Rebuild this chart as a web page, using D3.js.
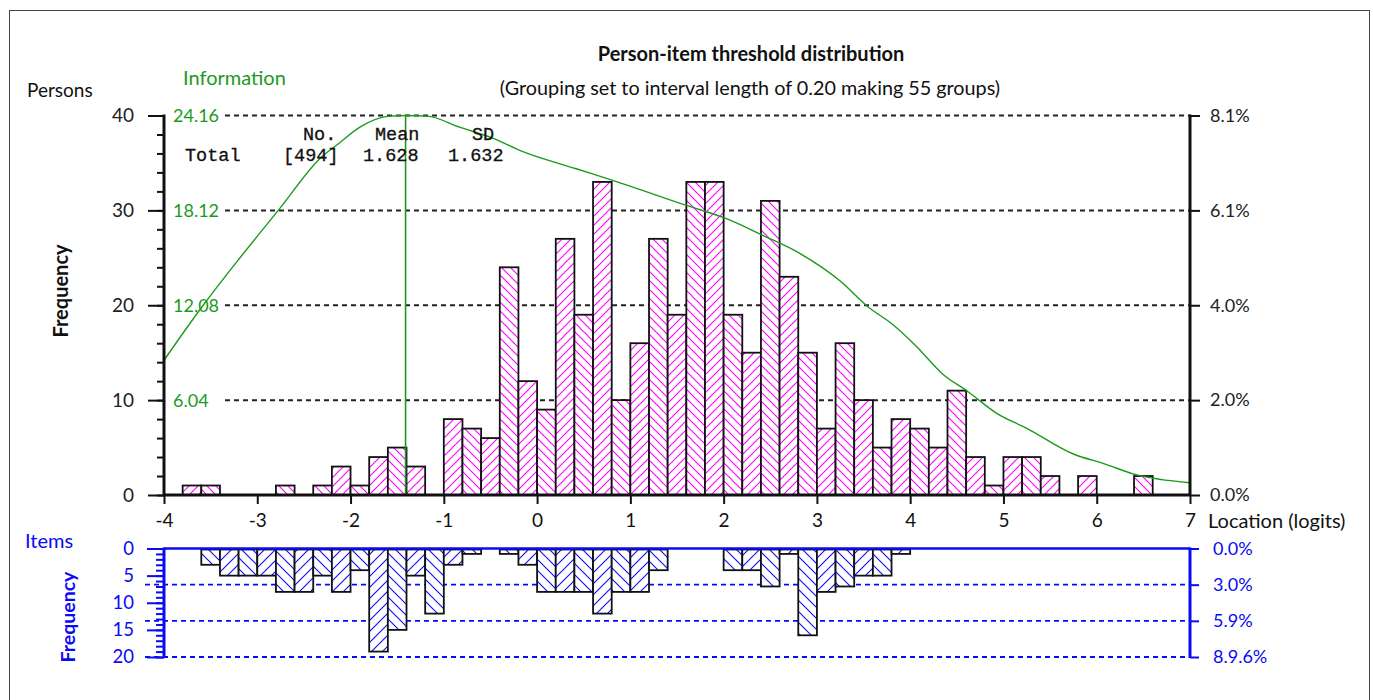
<!DOCTYPE html>
<html>
<head>
<meta charset="utf-8">
<script src="https://cdn.jsdelivr.net/npm/d3@7"></script>
<style>
  body { margin: 0; background: #fff; }
  svg text { font-family: Lato, "Open Sans", sans-serif; }
</style>
</head>
<body>
<svg id="chart" width="1373" height="700"></svg>
<script>
// ---- data -------------------------------------------------------------
// 55 groups of width 0.20 logits, starting at -4
const binStart = -4;
const binWidth = 0.2;

// persons per group
const personCounts = [0,1,1,0,0,0,1,0,1,3,1,4,5,3,0,8,7,6,24,12,9,27,19,33,10,16,27,19,33,33,19,15,31,23,15,7,16,10,5,8,7,5,11,4,1,4,4,2,0,2,0,0,2,0,0];

// item thresholds per group
const itemCounts = [0,0,3,5,5,5,8,8,5,8,4,19,15,5,12,3,1,0,1,3,8,8,8,12,8,8,4,0,0,0,4,4,7,1,16,8,7,5,5,1,0,0,0,0,0,0,0,0,0,0,0,0,0,0,0];

// test information function
const infoLocations = [-4.00,-3.58,-3.19,-2.76,-2.33,-2.11,-1.90,-1.58,-1.41,-1.18,-0.83,-0.47,-0.18,0.42,0.81,1.60,2.03,2.42,2.82,3.25,3.55,3.81,4.06,4.35,4.61,4.94,5.24,5.75,6.09,6.41,7.00];
const infoValues    = [8.58,12.08,15.07,18.23,21.41,22.46,23.42,24.12,24.16,24.12,23.42,22.70,21.93,20.77,20.03,18.44,17.59,16.53,15.37,13.62,11.97,10.87,9.50,7.69,6.62,5.15,4.28,2.61,1.97,1.31,0.78];
const infoPeakLocation = -1.41;
const infoMax = 24.16;

// summary statistics
const personMean = "1.628";
const personSD = "1.632";

// axis ticks and labels
const xTicks = [-4,-3,-2,-1,0,1,2,3,4,5,6,7];
const personTicks = [0,10,20,30,40];
const personMinorTicks = d3.range(0, 41, 2);
const infoTickLabels = ["6.04","12.08","18.12","24.16"];
const personPctLabels = ["0.0%","2.0%","4.0%","6.1%","8.1%"];
const itemTicks = [0,5,10,15,20];
const itemMinorTicks = d3.range(0, 21, 1);
const itemGridLevels = [0, 20/3, 40/3, 20];
const itemPctLabels = ["0.0%","3.0%","5.9%","8.9.6%"];

// ---- layout -----------------------------------------------------------
const svg = d3.select("#chart");
const GREEN = "#1c9a1c", BLUE = "#0a0af5", MAGENTA = "#ff00ff";

const x = d3.scaleLinear().domain([-4, 7]).range([164, 1190]);
const yP = d3.scaleLinear().domain([0, 40]).range([495, 115.5]);
const yInfo = d3.scaleLinear().domain([0, infoMax]).range([495, 115.5]);
const yI = d3.scaleLinear().domain([0, 20]).range([548.5, 657]);

// frame
svg.append("rect").attr("x", 9.5).attr("y", 10.5).attr("width", 1360).attr("height", 700)
  .attr("fill", "none").attr("stroke", "#444").attr("stroke-width", 1);

// hatch patterns
const defs = svg.append("defs");
function hatch(id, color, s, dir) {
  const p = defs.append("pattern").attr("id", id).attr("patternUnits", "userSpaceOnUse")
    .attr("width", s).attr("height", s);
  p.append("rect").attr("width", s).attr("height", s).attr("fill", "#fff");
  const d = dir === "back"
    ? `M0,0L${s},${s}M-1,${s-1}L1,${s+1}M${s-1},-1L${s+1},1`
    : `M0,${s}L${s},0M-1,1L1,-1M${s-1},${s+1}L${s+1},${s-1}`;
  p.append("path").attr("d", d).attr("stroke", color).attr("stroke-width", 1.1);
}
hatch("pBack", MAGENTA, 9, "back");
hatch("pFwd", MAGENTA, 9, "fwd");
hatch("iBack", BLUE, 11, "back");
hatch("iFwd", BLUE, 11, "fwd");

// ---- titles -----------------------------------------------------------
svg.append("text").attr("x", 751).attr("y", 61).attr("text-anchor", "middle")
  .attr("font-size", 20).attr("font-weight", "bold").attr("fill", "#111")
  .text("Person-item threshold distribution");
svg.append("text").attr("x", 750).attr("y", 95).attr("text-anchor", "middle")
  .attr("font-size", 19.8).attr("fill", "#111")
  .text("(Grouping set to interval length of 0.20 making 55 groups)");
svg.append("text").attr("x", 27).attr("y", 97).attr("font-size", 19).attr("fill", "#111").text("Persons");
svg.append("text").attr("x", 183).attr("y", 85).attr("font-size", 20).attr("fill", GREEN).text("Information");
svg.append("text").attr("transform", "translate(68,291) rotate(-90)").attr("text-anchor", "middle")
  .attr("font-size", 20).attr("font-weight", "bold").attr("fill", "#111").text("Frequency");
svg.append("text").attr("x", 25).attr("y", 548).attr("font-size", 20).attr("fill", BLUE).text("Items");
svg.append("text").attr("transform", "translate(75,617) rotate(-90)").attr("text-anchor", "middle")
  .attr("font-size", 19.5).attr("font-weight", "bold").attr("fill", BLUE).text("Frequency");

// ---- persons panel ----------------------------------------------------
// dashed grid lines with information labels
const gridLevels = personTicks.slice(1);
svg.append("g").selectAll("line").data(gridLevels).join("line")
  .attr("x1", 225).attr("x2", x(7)).attr("y1", d => yP(d)).attr("y2", d => yP(d))
  .attr("stroke", "#222").attr("stroke-width", 2).attr("stroke-dasharray", "5,4");
svg.append("g").selectAll("text").data(gridLevels).join("text")
  .attr("x", 173).attr("y", d => yP(d)).attr("dy", "0.36em")
  .attr("font-family", "Liberation Sans, Arial, sans-serif").attr("font-size", 18)
  .attr("fill", GREEN).text((d, i) => infoTickLabels[i]);

// person bars
const bins = personCounts.map((v, k) => ({ k, v, x0: binStart + k * binWidth }));
svg.append("g").selectAll("rect").data(bins.filter(d => d.v > 0)).join("rect")
  .attr("x", d => x(d.x0)).attr("width", d => x(d.x0 + binWidth) - x(d.x0))
  .attr("y", d => yP(d.v)).attr("height", d => yP(0) - yP(d.v))
  .attr("fill", d => d.k % 2 === 0 ? "url(#pBack)" : "url(#pFwd)")
  .attr("stroke", "#111").attr("stroke-width", 1.8);

// information curve and peak marker
svg.append("line").attr("x1", x(infoPeakLocation)).attr("x2", x(infoPeakLocation))
  .attr("y1", yP(40)).attr("y2", yP(0)).attr("stroke", GREEN).attr("stroke-width", 1.6);
const infoLine = d3.line().x(d => x(d[0])).y(d => yInfo(d[1])).curve(d3.curveMonotoneX);
svg.append("path").datum(d3.zip(infoLocations, infoValues)).attr("d", infoLine)
  .attr("fill", "none").attr("stroke", GREEN).attr("stroke-width", 1.4);

// summary statistics
const stats = svg.append("g").attr("fill", "#111").attr("stroke", "#111").attr("stroke-width", 0.3);
[["No.", 303, 140], ["Mean", 375, 140], ["SD", 472, 140],
 ["Total", 185, 161], [`[${d3.sum(personCounts)}]`, 283, 161], [personMean, 363, 161], [personSD, 448, 161]]
  .forEach(([t, tx, ty]) => stats.append("text").attr("x", tx).attr("y", ty)
    .attr("font-size", 18.5).style("font-family", "'Liberation Mono', monospace").text(t));

// left axis (major + minor ticks)
const leftMinor = svg.append("g").attr("transform", `translate(${x(-4)},0)`)
  .call(d3.axisLeft(yP).tickValues(personMinorTicks).tickSize(7).tickFormat(""));
const leftMajor = svg.append("g").attr("transform", `translate(${x(-4)},0)`)
  .call(d3.axisLeft(yP).tickValues(personTicks).tickSize(16).tickPadding(14).tickFormat(d => String(d)));
[leftMinor, leftMajor].forEach(g => {
  g.select(".domain").remove();
  g.selectAll(".tick line").attr("stroke", "#111").attr("stroke-width", 2);
});
leftMajor.selectAll("text").attr("font-size", 19).attr("fill", "#222").style("font-family", "Lato");
svg.append("line").attr("x1", x(-4)).attr("x2", x(-4)).attr("y1", yP(40) - 1).attr("y2", yP(0) + 1)
  .attr("stroke", "#111").attr("stroke-width", 3);

// right axis (percent of persons)
const rightAxis = svg.append("g").attr("transform", `translate(${x(7)},0)`)
  .call(d3.axisRight(yP).tickValues(personTicks).tickSize(10).tickPadding(10)
    .tickFormat((d, i) => personPctLabels[i]));
rightAxis.select(".domain").remove();
rightAxis.selectAll(".tick line").attr("stroke", "#111").attr("stroke-width", 2);
rightAxis.selectAll("text").attr("font-size", 18).attr("fill", "#222").style("font-family", "Lato");
svg.append("line").attr("x1", x(7)).attr("x2", x(7)).attr("y1", yP(40) - 1).attr("y2", yP(0) + 1)
  .attr("stroke", "#111").attr("stroke-width", 3);

// bottom axis
const xAxis = svg.append("g").attr("transform", `translate(0,${yP(0)})`)
  .call(d3.axisBottom(x).tickValues(xTicks).tickSize(9).tickPadding(10).tickFormat(d => String(d)));
xAxis.select(".domain").remove();
xAxis.selectAll(".tick line").attr("stroke", "#111").attr("stroke-width", 2);
xAxis.selectAll("text").attr("font-size", 19).attr("fill", "#111").style("font-family", "Lato");
svg.append("line").attr("x1", x(-4) - 1).attr("x2", x(7) + 1).attr("y1", yP(0)).attr("y2", yP(0))
  .attr("stroke", "#111").attr("stroke-width", 3);
svg.append("text").attr("x", 1208).attr("y", 528).attr("font-size", 20).attr("fill", "#111")
  .text("Location (logits)");

// ---- items panel ------------------------------------------------------
svg.append("g").selectAll("line").data(itemGridLevels.slice(1)).join("line")
  .attr("x1", 145).attr("x2", x(7)).attr("y1", d => yI(d)).attr("y2", d => yI(d))
  .attr("stroke", BLUE).attr("stroke-width", 1.8).attr("stroke-dasharray", "5,4");

const ibins = itemCounts.map((v, k) => ({ k, v, x0: binStart + k * binWidth }));
svg.append("g").selectAll("rect").data(ibins.filter(d => d.v > 0)).join("rect")
  .attr("x", d => x(d.x0)).attr("width", d => x(d.x0 + binWidth) - x(d.x0))
  .attr("y", yI(0) + 1).attr("height", d => yI(d.v) - yI(0) - 1)
  .attr("fill", d => d.k % 2 === 0 ? "url(#iBack)" : "url(#iFwd)")
  .attr("stroke", "#111").attr("stroke-width", 1.8);

// top line of items panel
svg.append("line").attr("x1", x(-4)).attr("x2", x(7)).attr("y1", yI(0)).attr("y2", yI(0))
  .attr("stroke", BLUE).attr("stroke-width", 2.5);

const iMinor = svg.append("g").attr("transform", `translate(${x(-4)},0)`)
  .call(d3.axisLeft(yI).tickValues(itemMinorTicks).tickSize(8).tickFormat(""));
const iMajor = svg.append("g").attr("transform", `translate(${x(-4)},0)`)
  .call(d3.axisLeft(yI).tickValues(itemTicks).tickSize(17).tickPadding(13).tickFormat(d => String(d)));
[iMinor, iMajor].forEach(g => {
  g.select(".domain").remove();
  g.selectAll(".tick line").attr("stroke", BLUE).attr("stroke-width", 2);
});
iMajor.selectAll("text").attr("font-size", 18.5).attr("fill", BLUE).style("font-family", "Lato");
svg.append("line").attr("x1", x(-4)).attr("x2", x(-4)).attr("y1", yI(0) - 1).attr("y2", yI(20) + 1)
  .attr("stroke", BLUE).attr("stroke-width", 3);

const iRight = svg.append("g").attr("transform", `translate(${x(7)},0)`)
  .call(d3.axisRight(yI).tickValues(itemGridLevels).tickSize(9).tickPadding(14)
    .tickFormat((d, i) => itemPctLabels[i]));
iRight.select(".domain").remove();
iRight.selectAll(".tick line").attr("stroke", BLUE).attr("stroke-width", 2);
iRight.selectAll("text").attr("font-size", 18).attr("fill", BLUE).style("font-family", "Lato");
svg.append("line").attr("x1", x(7)).attr("x2", x(7)).attr("y1", yI(0) - 1).attr("y2", yI(20) + 1)
  .attr("stroke", BLUE).attr("stroke-width", 3);
</script>
</body>
</html>
